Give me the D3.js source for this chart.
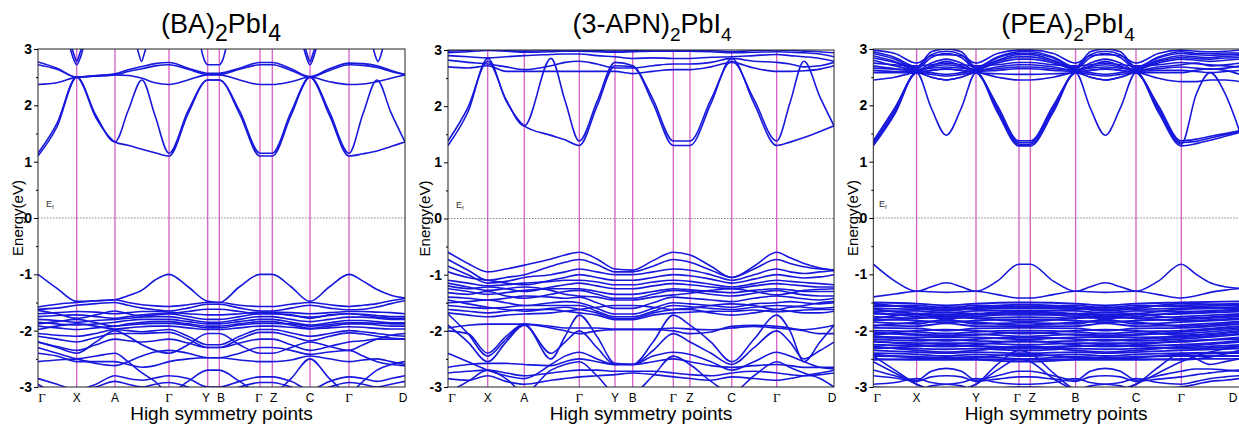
<!DOCTYPE html>
<html><head><meta charset="utf-8">
<script src="https://cdn.jsdelivr.net/npm/d3@7"></script>
<style>body{margin:0;background:#fff}svg{display:block}</style>
</head><body><svg id="c" width="1239" height="429"></svg>
<script>
// ---------- shared ----------
const yTicks = [-3,-2,-1,0,1,2,3];
const yMinor = [-2.5,-1.5,-0.5,0.5,1.5,2.5];
const xTitle = "High symmetry points";
const yTitle = "Energy(eV)";

// ---------- (BA)2PbI4 ----------
const baTitle = ["(BA)","2","PbI","4"];
const baKpts = [0,38.7,77,131,169.7,181.3,222,234.3,272,311,367];
const baKlabels = ["Γ","X","A","Γ","Y","B","Γ","Z","C","Γ","D"];
const baGrid = [0,19,38.7,58,77,90,104,117,131,150,169.7,181.3,201.6,222,234.3,253,272,291.5,311,325,339,353,367];
const baCB = [
 [1.10,1.62,2.50,1.78,1.35,1.29,1.22,1.16,1.10,1.85,2.45,2.45,1.85,1.10,1.10,1.82,2.50,1.82,1.10,1.14,1.19,1.27,1.35],
 [1.15,1.68,2.50,1.82,1.35,1.90,2.45,1.82,1.15,1.90,2.45,2.45,1.90,1.15,1.15,1.88,2.50,1.88,1.15,1.85,2.45,1.87,1.35],
 [2.37,2.40,2.50,2.52,2.54,2.53,2.48,2.40,2.37,2.45,2.54,2.54,2.45,2.37,2.37,2.42,2.50,2.42,2.37,2.38,2.42,2.48,2.54],
 [2.72,2.64,2.50,2.52,2.54,2.60,2.65,2.70,2.72,2.64,2.55,2.55,2.64,2.72,2.72,2.62,2.50,2.62,2.72,2.71,2.67,2.60,2.54],
 [2.77,2.66,2.50,2.53,2.56,2.63,2.69,2.74,2.76,2.66,2.57,2.57,2.66,2.76,2.76,2.65,2.51,2.65,2.75,2.74,2.70,2.62,2.55]
];
const baVB = [
 [-1.00,-1.25,-1.48,-1.47,-1.45,-1.38,-1.28,-1.10,-1.00,-1.22,-1.48,-1.50,-1.22,-1.00,-1.00,-1.22,-1.48,-1.22,-1.00,-1.12,-1.27,-1.37,-1.42],
 [-1.58,-1.53,-1.50,-1.47,-1.45,-1.50,-1.54,-1.56,-1.57,-1.54,-1.50,-1.50,-1.55,-1.57,-1.57,-1.53,-1.50,-1.54,-1.57,-1.55,-1.52,-1.47,-1.43],
 [-1.62,-1.60,-1.55,-1.52,-1.50,-1.55,-1.60,-1.63,-1.65,-1.60,-1.53,-1.53,-1.60,-1.65,-1.65,-1.60,-1.55,-1.60,-1.63,-1.62,-1.58,-1.52,-1.47],
 [-1.70,-1.68,-1.66,-1.67,-1.70,-1.68,-1.66,-1.66,-1.67,-1.70,-1.72,-1.72,-1.70,-1.67,-1.67,-1.68,-1.70,-1.68,-1.66,-1.66,-1.67,-1.68,-1.70],
 [-1.75,-1.73,-1.72,-1.75,-1.78,-1.75,-1.72,-1.70,-1.70,-1.75,-1.80,-1.80,-1.75,-1.70,-1.70,-1.73,-1.76,-1.73,-1.70,-1.71,-1.73,-1.75,-1.75],
 [-1.80,-1.82,-1.85,-1.82,-1.80,-1.78,-1.76,-1.75,-1.75,-1.80,-1.85,-1.85,-1.80,-1.75,-1.75,-1.80,-1.84,-1.80,-1.76,-1.76,-1.78,-1.80,-1.80],
 [-1.85,-1.88,-1.90,-1.88,-1.85,-1.82,-1.80,-1.80,-1.80,-1.84,-1.88,-1.88,-1.84,-1.80,-1.80,-1.85,-1.90,-1.86,-1.82,-1.82,-1.84,-1.86,-1.86],
 [-1.92,-1.95,-1.98,-1.95,-1.92,-1.88,-1.85,-1.84,-1.84,-1.88,-1.92,-1.92,-1.88,-1.84,-1.84,-1.90,-1.96,-1.92,-1.88,-1.88,-1.90,-1.92,-1.92],
 [-1.98,-1.92,-1.88,-1.92,-1.97,-1.95,-1.93,-1.92,-1.92,-1.95,-1.98,-1.98,-1.95,-1.92,-1.92,-1.94,-1.97,-1.95,-1.93,-1.94,-1.96,-1.97,-1.97],
 [-2.05,-2.08,-2.10,-2.05,-1.98,-2.00,-2.02,-2.00,-1.98,-2.10,-2.25,-2.25,-2.10,-1.98,-1.98,-2.04,-2.10,-2.05,-2.00,-2.02,-2.05,-2.08,-2.10],
 [-2.10,-2.15,-2.20,-2.12,-2.05,-2.05,-2.05,-2.04,-2.03,-2.15,-2.30,-2.30,-2.15,-2.03,-2.03,-2.10,-2.18,-2.10,-2.04,-2.06,-2.10,-2.13,-2.15],
 [-2.20,-2.28,-2.35,-2.25,-2.15,-2.18,-2.20,-2.18,-2.15,-2.22,-2.30,-2.30,-2.22,-2.15,-2.15,-2.25,-2.35,-2.28,-2.20,-2.18,-2.15,-2.15,-2.15],
 [-2.30,-2.40,-2.50,-2.58,-2.62,-2.55,-2.45,-2.38,-2.35,-2.40,-2.48,-2.48,-2.40,-2.30,-2.30,-2.35,-2.42,-2.38,-2.35,-2.45,-2.55,-2.60,-2.62],
 [-2.40,-2.45,-2.55,-2.55,-2.55,-2.60,-2.65,-2.62,-2.55,-2.50,-2.48,-2.48,-2.52,-2.55,-2.55,-2.52,-2.45,-2.50,-2.55,-2.52,-2.50,-2.55,-2.60],
 [-2.55,-2.52,-2.50,-2.45,-2.40,-2.55,-2.75,-2.90,-3.10,-2.90,-2.70,-2.70,-2.90,-3.10,-3.10,-2.85,-2.50,-2.85,-3.10,-2.90,-2.70,-2.60,-2.55],
 [-2.85,-2.95,-3.05,-2.95,-2.80,-2.85,-2.88,-2.84,-2.80,-2.85,-3.00,-3.00,-2.90,-2.82,-2.82,-2.90,-3.05,-2.90,-2.82,-2.85,-2.90,-2.85,-2.80],
 [-2.95,-3.10,-3.10,-3.00,-2.90,-2.95,-3.00,-2.95,-2.92,-3.00,-3.10,-3.10,-3.00,-2.92,-2.92,-3.00,-3.10,-3.00,-2.92,-2.95,-3.00,-2.95,-2.90],
 [-2.20,-2.30,-2.40,-2.20,-2.00,-2.10,-2.25,-2.35,-2.40,-2.25,-2.05,-2.05,-2.25,-2.40,-2.40,-2.30,-2.20,-2.28,-2.35,-2.25,-2.15,-2.08,-2.05],
 [-1.64,-1.70,-1.78,-1.72,-1.65,-1.70,-1.74,-1.72,-1.70,-1.66,-1.62,-1.62,-1.66,-1.70,-1.70,-1.72,-1.78,-1.72,-1.70,-1.72,-1.76,-1.78,-1.78],
 [-1.88,-1.84,-1.80,-1.86,-1.92,-1.90,-1.88,-1.87,-1.87,-1.90,-1.95,-1.95,-1.90,-1.87,-1.87,-1.88,-1.92,-1.89,-1.86,-1.86,-1.87,-1.88,-1.88]
];
const baPockets = [
 [[31,3.1],[35,2.85],[38.7,2.72],[42.4,2.85],[46.4,3.1]],
 [[32.5,3.1],[36,2.9],[38.7,2.78],[41.4,2.9],[44.9,3.1]],
 [[98,3.1],[101,2.9],[103.5,2.78],[106,2.9],[109,3.1]],
 [[162,3.1],[166,2.82],[169.7,2.72],[181.3,2.72],[185,2.82],[189,3.1]],
 [[264.5,3.1],[268.5,2.85],[272,2.72],[275.5,2.85],[279.5,3.1]],
 [[266,3.1],[269.3,2.9],[272,2.78],[274.7,2.9],[278,3.1]],
 [[334,3.1],[337,2.9],[340,2.78],[343,2.9],[346,3.1]]
];

// ---------- (3-APN)2PbI4 ----------
const apTitle = ["(3-APN)","2","PbI","4"];
const apKpts = [0,39.7,76.3,131.3,167,184.7,225.3,242,283.7,328.7,386];
const apKlabels = ["Γ","X","A","Γ","Y","B","Γ","Z","C","Γ","D"];
const apGrid = [0,20,39.7,58,76.3,103,117,131.3,149,167,184.7,205,225.3,242,263,283.7,306,328.7,342,356,372,386];
const apCB = [
 [1.30,1.90,2.85,2.10,1.65,1.48,1.40,1.30,2.00,2.72,2.70,2.05,1.30,1.30,2.05,2.85,2.05,1.30,1.36,1.44,1.55,1.65],
 [1.38,1.98,2.80,2.12,1.65,2.85,2.10,1.38,2.08,2.78,2.72,2.12,1.38,1.38,2.12,2.80,2.12,1.38,2.06,2.80,2.16,1.65],
 [2.70,2.68,2.72,2.62,2.62,2.62,2.62,2.62,2.62,2.62,2.58,2.62,2.65,2.65,2.70,2.78,2.68,2.62,2.62,2.63,2.66,2.72],
 [2.82,2.78,2.75,2.70,2.65,2.72,2.78,2.80,2.75,2.68,2.68,2.72,2.75,2.75,2.78,2.85,2.80,2.78,2.75,2.70,2.72,2.78],
 [2.90,2.88,2.86,2.88,2.90,2.92,2.93,2.93,2.90,2.88,2.85,2.86,2.85,2.85,2.87,2.88,2.90,2.92,2.90,2.88,2.85,2.80],
 [2.95,2.97,2.99,2.98,2.96,2.97,2.98,2.98,2.97,2.96,2.97,2.98,2.98,2.98,2.97,2.95,2.96,2.97,2.96,2.95,2.93,2.88],
 [2.98,2.99,3.05,2.99,2.98,2.99,3.00,3.00,2.99,2.98,2.99,3.00,3.00,3.00,2.99,2.97,2.99,3.00,2.99,2.98,2.97,2.95]
];
const apVB = [
 [-0.60,-0.80,-0.95,-0.90,-0.83,-0.72,-0.65,-0.60,-0.72,-0.90,-0.92,-0.75,-0.60,-0.65,-0.85,-1.05,-0.85,-0.60,-0.70,-0.80,-0.88,-0.92],
 [-0.73,-0.92,-1.10,-1.05,-1.00,-0.85,-0.78,-0.73,-0.82,-0.95,-0.95,-0.85,-0.73,-0.78,-0.92,-1.05,-0.90,-0.73,-0.80,-0.86,-0.90,-0.92],
 [-0.85,-1.00,-1.15,-1.12,-1.05,-1.00,-0.95,-0.90,-0.95,-1.00,-1.00,-0.95,-0.90,-0.92,-1.00,-1.10,-1.00,-0.90,-0.95,-0.98,-0.95,-0.93],
 [-0.95,-1.05,-1.10,-1.15,-1.18,-1.10,-1.05,-1.00,-1.05,-1.10,-1.10,-1.05,-1.00,-1.02,-1.08,-1.15,-1.08,-1.00,-1.03,-1.06,-1.04,-1.00],
 [-1.10,-1.15,-1.20,-1.18,-1.15,-1.12,-1.10,-1.10,-1.13,-1.18,-1.18,-1.13,-1.10,-1.12,-1.17,-1.22,-1.16,-1.10,-1.12,-1.14,-1.16,-1.18],
 [-1.20,-1.25,-1.22,-1.25,-1.30,-1.22,-1.18,-1.15,-1.20,-1.25,-1.25,-1.20,-1.16,-1.18,-1.22,-1.25,-1.20,-1.16,-1.18,-1.20,-1.22,-1.22],
 [-1.25,-1.30,-1.35,-1.32,-1.28,-1.25,-1.25,-1.25,-1.30,-1.35,-1.35,-1.30,-1.25,-1.27,-1.30,-1.32,-1.28,-1.25,-1.27,-1.30,-1.30,-1.30],
 [-1.32,-1.35,-1.30,-1.38,-1.42,-1.35,-1.30,-1.28,-1.35,-1.42,-1.42,-1.35,-1.28,-1.30,-1.35,-1.38,-1.33,-1.28,-1.32,-1.36,-1.38,-1.38],
 [-1.40,-1.42,-1.45,-1.42,-1.38,-1.40,-1.42,-1.40,-1.50,-1.60,-1.60,-1.50,-1.40,-1.42,-1.45,-1.48,-1.42,-1.38,-1.40,-1.43,-1.45,-1.42],
 [-1.50,-1.48,-1.45,-1.50,-1.55,-1.50,-1.48,-1.50,-1.60,-1.70,-1.70,-1.60,-1.50,-1.52,-1.55,-1.58,-1.52,-1.50,-1.48,-1.50,-1.52,-1.50],
 [-1.55,-1.58,-1.60,-1.58,-1.55,-1.55,-1.55,-1.55,-1.65,-1.75,-1.75,-1.65,-1.55,-1.57,-1.60,-1.62,-1.58,-1.55,-1.56,-1.58,-1.60,-1.58],
 [-1.62,-1.65,-1.68,-1.65,-1.62,-1.62,-1.65,-1.68,-1.72,-1.80,-1.80,-1.72,-1.68,-1.67,-1.65,-1.65,-1.63,-1.66,-1.65,-1.63,-1.62,-1.62],
 [-1.68,-1.72,-1.75,-1.72,-1.70,-1.68,-1.65,-1.62,-1.58,-1.55,-1.55,-1.58,-1.62,-1.62,-1.68,-1.72,-1.68,-1.62,-1.65,-1.68,-1.68,-1.65],
 [-1.95,-1.90,-1.88,-1.88,-1.88,-1.92,-1.95,-1.95,-1.95,-1.97,-1.97,-1.97,-1.95,-1.97,-1.98,-1.95,-1.92,-1.95,-1.97,-1.98,-1.95,-1.90],
 [-2.00,-2.05,-2.40,-2.10,-1.88,-1.95,-2.00,-2.05,-2.00,-1.98,-1.98,-1.98,-2.00,-2.05,-2.02,-1.92,-1.90,-1.92,-1.95,-2.00,-2.05,-2.05],
 [-1.70,-2.05,-2.45,-2.15,-1.88,-2.50,-2.10,-1.72,-2.10,-2.58,-2.60,-2.20,-1.72,-1.90,-2.20,-2.55,-2.15,-1.72,-2.00,-2.55,-2.20,-1.90],
 [-1.90,-2.20,-2.55,-2.20,-1.90,-2.40,-2.20,-2.00,-2.30,-2.60,-2.60,-2.35,-2.05,-2.20,-2.40,-2.60,-2.30,-2.00,-2.20,-2.50,-2.35,-2.20],
 [-2.65,-2.60,-2.58,-2.58,-2.60,-2.62,-2.55,-2.50,-2.55,-2.60,-2.60,-2.55,-2.50,-2.55,-2.62,-2.65,-2.62,-2.60,-2.62,-2.65,-2.65,-2.65],
 [-2.40,-2.55,-2.70,-2.80,-2.85,-2.60,-2.45,-2.38,-2.50,-2.60,-2.60,-2.45,-2.38,-2.42,-2.55,-2.70,-2.55,-2.38,-2.45,-2.55,-2.65,-2.68],
 [-2.75,-2.72,-2.70,-2.75,-2.80,-2.75,-2.72,-2.70,-2.70,-2.72,-2.72,-2.72,-2.75,-2.78,-2.80,-2.75,-2.72,-2.75,-2.78,-2.80,-2.78,-2.75],
 [-2.85,-2.88,-2.80,-2.90,-2.95,-2.88,-2.85,-2.82,-2.80,-2.78,-2.75,-2.78,-2.82,-2.85,-2.88,-2.82,-2.85,-2.88,-2.85,-2.80,-2.75,-2.70],
 [-3.10,-2.90,-2.70,-2.85,-3.10,-2.70,-2.60,-2.55,-2.80,-3.10,-3.10,-2.80,-2.45,-2.60,-2.90,-3.10,-2.80,-2.55,-2.65,-2.75,-2.85,-3.00],
 [-1.15,-1.22,-1.28,-1.25,-1.22,-1.28,-1.35,-1.38,-1.40,-1.45,-1.45,-1.40,-1.36,-1.33,-1.28,-1.25,-1.30,-1.36,-1.33,-1.28,-1.26,-1.25],
 [-1.45,-1.52,-1.58,-1.62,-1.65,-1.60,-1.58,-1.62,-1.68,-1.78,-1.78,-1.68,-1.62,-1.60,-1.55,-1.52,-1.55,-1.62,-1.58,-1.55,-1.50,-1.48]
];

// ---------- (PEA)2PbI4 ----------
const peTitle = ["(PEA)","2","PbI","4"];
const peKpts = [0,43.3,102.7,145.7,157,202.3,262.7,308,366.7];
const peKlabels = ["Γ","X","Y","Γ","Z","B","C","Γ","D"];
const peGrid = [0,21.6,43.3,58,73,88,102.7,124,145.7,157,180,202.3,217,232,247,262.7,285,308,323,337,352,366.7];
const peCB = [
 [1.28,1.85,2.58,1.95,1.47,1.95,2.58,1.88,1.28,1.28,1.88,2.58,1.95,1.47,1.95,2.58,1.88,1.28,1.32,1.38,1.45,1.52],
 [1.31,1.88,2.58,2.50,2.45,2.50,2.58,1.92,1.31,1.31,1.92,2.58,2.50,2.45,2.50,2.58,1.92,1.31,2.20,2.58,2.20,1.52],
 [1.34,1.92,2.58,2.55,2.52,2.55,2.58,1.96,1.34,1.34,1.96,2.58,2.55,2.52,2.55,2.58,1.96,1.34,1.36,1.42,1.48,1.54],
 [1.37,1.96,2.58,2.62,2.65,2.62,2.58,2.00,1.37,1.37,2.00,2.58,2.62,2.65,2.62,2.58,2.00,1.37,1.40,1.45,1.50,1.55],
 [2.45,2.50,2.58,2.50,2.45,2.50,2.58,2.50,2.45,2.45,2.50,2.58,2.50,2.45,2.50,2.58,2.48,2.42,2.42,2.45,2.45,2.42],
 [2.62,2.60,2.60,2.68,2.72,2.68,2.60,2.62,2.65,2.65,2.62,2.60,2.68,2.72,2.68,2.60,2.62,2.62,2.60,2.58,2.60,2.62],
 [2.70,2.65,2.62,2.75,2.82,2.75,2.62,2.68,2.72,2.72,2.68,2.62,2.75,2.82,2.75,2.62,2.68,2.72,2.75,2.70,2.72,2.75],
 [2.80,2.70,2.62,2.58,2.55,2.58,2.62,2.75,2.82,2.82,2.75,2.62,2.58,2.55,2.58,2.62,2.75,2.82,2.80,2.78,2.80,2.82],
 [2.88,2.78,2.65,2.85,2.92,2.85,2.65,2.80,2.90,2.90,2.80,2.65,2.85,2.92,2.85,2.65,2.80,2.88,2.86,2.85,2.87,2.88],
 [2.95,2.85,2.68,2.95,3.00,2.95,2.68,2.86,2.95,2.95,2.86,2.68,2.95,3.00,2.95,2.68,2.86,2.95,2.92,2.92,2.93,2.93],
 [2.75,2.72,2.70,2.72,2.75,2.72,2.70,2.72,2.76,2.76,2.72,2.70,2.72,2.75,2.72,2.70,2.72,2.76,2.74,2.72,2.70,2.68],
 [2.98,2.92,2.75,2.88,2.90,2.88,2.75,2.92,2.98,2.98,2.92,2.75,2.88,2.90,2.88,2.75,2.92,2.98,2.96,2.95,2.96,2.98],
 [2.58,2.58,2.58,2.62,2.64,2.62,2.58,2.56,2.55,2.55,2.56,2.58,2.62,2.64,2.62,2.58,2.58,2.58,2.62,2.65,2.62,2.55],
 [2.66,2.64,2.62,2.70,2.78,2.70,2.62,2.65,2.68,2.68,2.65,2.62,2.70,2.78,2.70,2.62,2.65,2.68,2.66,2.64,2.66,2.70],
 [2.84,2.76,2.64,2.66,2.68,2.66,2.64,2.78,2.86,2.86,2.78,2.64,2.66,2.68,2.66,2.64,2.78,2.85,2.83,2.82,2.84,2.85],
 [2.92,2.82,2.66,2.90,2.96,2.90,2.66,2.84,2.92,2.92,2.84,2.66,2.90,2.96,2.90,2.66,2.84,2.92,2.90,2.89,2.90,2.91]
];
const peVB = [
 [-0.82,-1.12,-1.30,-1.22,-1.15,-1.22,-1.30,-1.12,-0.82,-0.82,-1.12,-1.30,-1.22,-1.15,-1.22,-1.30,-1.12,-0.82,-1.00,-1.15,-1.22,-1.25],
 [-1.40,-1.35,-1.30,-1.31,-1.32,-1.31,-1.30,-1.36,-1.42,-1.42,-1.36,-1.30,-1.31,-1.32,-1.31,-1.30,-1.36,-1.42,-1.38,-1.32,-1.28,-1.25],
 [-2.70,-2.80,-2.88,-2.72,-2.67,-2.72,-2.88,-2.80,-2.72,-2.72,-2.80,-2.88,-2.72,-2.67,-2.72,-2.88,-2.80,-2.72,-2.68,-2.68,-2.70,-2.72],
 [-2.80,-2.84,-2.90,-2.82,-2.80,-2.82,-2.90,-2.86,-2.82,-2.82,-2.86,-2.90,-2.82,-2.80,-2.82,-2.90,-2.86,-2.82,-2.78,-2.75,-2.72,-2.70],
 [-2.95,-2.92,-2.85,-2.92,-2.95,-2.92,-2.85,-2.92,-2.95,-2.95,-2.92,-2.85,-2.92,-2.95,-2.92,-2.85,-2.92,-2.95,-2.90,-2.85,-2.82,-2.80],
 [-2.45,-2.70,-2.95,-3.05,-3.10,-3.05,-2.95,-2.60,-2.35,-2.40,-2.75,-3.05,-3.10,-3.10,-3.05,-2.95,-2.65,-2.40,-2.50,-2.60,-2.55,-2.50],
 [-2.55,-2.75,-2.95,-3.05,-3.08,-3.05,-2.95,-2.70,-2.50,-2.55,-2.85,-3.05,-3.08,-3.08,-3.05,-2.95,-2.75,-2.55,-2.45,-2.38,-2.32,-2.28],
 [-3.00,-3.02,-3.05,-2.98,-2.95,-2.98,-3.05,-3.02,-3.00,-3.00,-3.02,-3.05,-2.98,-2.95,-2.98,-3.05,-3.02,-3.00,-2.95,-2.90,-2.88,-2.85]
];
// dense valence manifold sampled at high-symmetry points and X-Y / B-C midpoints
const peDenseGrid = [0,43.3,73,102.7,145.7,157,202.3,232,262.7,308,366.7];
const peDense = [
 [-1.50,-1.52,-1.55,-1.52,-1.50,-1.50,-1.52,-1.55,-1.52,-1.50,-1.48],
 [-1.55,-1.58,-1.62,-1.58,-1.54,-1.54,-1.58,-1.62,-1.58,-1.55,-1.52],
 [-1.60,-1.62,-1.58,-1.62,-1.60,-1.60,-1.62,-1.58,-1.62,-1.60,-1.58],
 [-1.66,-1.65,-1.68,-1.65,-1.64,-1.64,-1.65,-1.68,-1.65,-1.66,-1.62],
 [-1.70,-1.72,-1.75,-1.72,-1.68,-1.68,-1.72,-1.75,-1.72,-1.70,-1.66],
 [-1.75,-1.78,-1.72,-1.78,-1.76,-1.76,-1.78,-1.72,-1.78,-1.75,-1.70],
 [-1.80,-1.82,-1.85,-1.82,-1.80,-1.80,-1.82,-1.85,-1.82,-1.80,-1.75],
 [-1.85,-1.88,-1.80,-1.88,-1.86,-1.86,-1.88,-1.80,-1.88,-1.85,-1.80],
 [-1.90,-1.92,-1.87,-1.92,-1.92,-1.92,-1.92,-1.87,-1.92,-1.90,-1.84],
 [-1.95,-1.96,-2.00,-1.96,-1.95,-1.95,-1.96,-2.00,-1.96,-1.95,-1.88],
 [-2.00,-2.02,-2.05,-2.02,-2.00,-2.00,-2.02,-2.05,-2.02,-2.00,-1.92],
 [-2.05,-2.06,-2.08,-2.06,-2.10,-2.10,-2.06,-2.08,-2.06,-2.05,-1.97],
 [-2.10,-2.12,-2.12,-2.12,-2.15,-2.15,-2.12,-2.12,-2.12,-2.10,-2.02],
 [-2.15,-2.18,-2.16,-2.18,-2.20,-2.20,-2.18,-2.16,-2.18,-2.15,-2.07],
 [-2.20,-2.22,-2.22,-2.22,-2.25,-2.25,-2.22,-2.22,-2.22,-2.20,-2.12],
 [-2.25,-2.27,-2.28,-2.27,-2.30,-2.30,-2.27,-2.28,-2.27,-2.25,-2.18],
 [-2.30,-2.32,-2.33,-2.32,-2.35,-2.35,-2.32,-2.33,-2.32,-2.30,-2.25],
 [-2.35,-2.38,-2.40,-2.38,-2.40,-2.40,-2.38,-2.40,-2.38,-2.35,-2.32],
 [-2.40,-2.42,-2.45,-2.42,-2.45,-2.45,-2.42,-2.45,-2.42,-2.40,-2.38],
 [-2.45,-2.46,-2.48,-2.46,-2.50,-2.50,-2.46,-2.48,-2.46,-2.45,-2.45],
 [-2.50,-2.52,-2.52,-2.52,-2.55,-2.55,-2.52,-2.52,-2.52,-2.50,-2.50],
 [-1.52,-1.60,-1.65,-1.60,-1.58,-1.58,-1.60,-1.65,-1.60,-1.52,-1.55],
 [-1.78,-1.70,-1.68,-1.70,-1.72,-1.72,-1.70,-1.68,-1.70,-1.78,-1.72],
 [-2.08,-2.00,-1.98,-2.00,-2.05,-2.05,-2.00,-1.98,-2.00,-2.08,-2.00],
 [-2.28,-2.35,-2.38,-2.35,-2.28,-2.28,-2.35,-2.38,-2.35,-2.28,-2.20],
 [-1.62,-1.70,-1.72,-1.70,-1.66,-1.66,-1.70,-1.72,-1.70,-1.62,-1.60],
 [-1.92,-1.85,-1.82,-1.85,-1.90,-1.90,-1.85,-1.82,-1.85,-1.92,-1.85],
 [-2.18,-2.25,-2.28,-2.25,-2.18,-2.18,-2.25,-2.28,-2.25,-2.18,-2.15],
 [-1.57,-1.55,-1.60,-1.55,-1.57,-1.57,-1.55,-1.60,-1.55,-1.57,-1.54],
 [-1.68,-1.75,-1.78,-1.75,-1.70,-1.70,-1.75,-1.78,-1.75,-1.68,-1.64],
 [-1.82,-1.78,-1.76,-1.78,-1.83,-1.83,-1.78,-1.76,-1.78,-1.82,-1.78],
 [-2.02,-2.08,-2.10,-2.08,-2.03,-2.03,-2.08,-2.10,-2.08,-2.02,-1.95],
 [-2.12,-2.15,-2.18,-2.15,-2.12,-2.12,-2.15,-2.18,-2.15,-2.12,-2.05],
 [-2.32,-2.28,-2.25,-2.28,-2.32,-2.32,-2.28,-2.25,-2.28,-2.32,-2.28],
 [-2.42,-2.48,-2.50,-2.48,-2.42,-2.42,-2.48,-2.50,-2.48,-2.42,-2.40],
 [-2.52,-2.50,-2.48,-2.50,-2.52,-2.52,-2.50,-2.48,-2.50,-2.52,-2.35]
];

// ---------- drawing ----------
const svg = d3.select("#c");
svg.append("rect").attr("width",1239).attr("height",429).attr("fill","#fff");

const BAND = "#1818dc", VLINE = "#d24fbf";
const FONT = "'Liberation Sans', Arial, sans-serif";

const panels = [
 {id:"ba", title:baTitle, kpts:baKpts, klabels:baKlabels, grid:baGrid, sets:[baCB,baVB], dGrid:null, dense:[], pockets:baPockets,
  L:38, R:405, T:49, B:387, titleX:221, titleMain:27, titleSub:23, yLabX:17, efX:46},
 {id:"ap", title:apTitle, kpts:apKpts, klabels:apKlabels, grid:apGrid, sets:[apCB,apVB], dGrid:null, dense:[], pockets:[],
  L:448, R:834, T:50, B:387, titleX:652, titleMain:27, titleSub:19, yLabX:424, efX:456},
 {id:"pe", title:peTitle, kpts:peKpts, klabels:peKlabels, grid:peGrid, sets:[peCB,peVB], dGrid:peDenseGrid, dense:peDense, pockets:[],
  L:873.3, R:1240, T:49, B:387, titleX:1068, titleMain:27, titleSub:19, yLabX:852, efX:879}
];

panels.forEach(p => {
  const x = d3.scaleLinear().domain([0, p.kpts[p.kpts.length-1]]).range([p.L, p.R]);
  const y = d3.scaleLinear().domain([-3, 3]).range([p.B, p.T]);
  const g = svg.append("g");

  g.append("clipPath").attr("id","clip-"+p.id)
    .append("rect").attr("x",p.L).attr("y",p.T).attr("width",p.R-p.L).attr("height",p.B-p.T);
  const plot = g.append("g").attr("clip-path","url(#clip-"+p.id+")");

  plot.selectAll("line.hs").data(p.kpts.slice(1,-1)).join("line")
    .attr("x1",d=>x(d)).attr("x2",d=>x(d)).attr("y1",p.T).attr("y2",p.B)
    .attr("stroke",VLINE).attr("stroke-width",1.3).attr("opacity",0.9);

  plot.append("line").attr("x1",p.L).attr("x2",p.R).attr("y1",y(0)).attr("y2",y(0))
    .attr("stroke","#666").attr("stroke-width",0.8).attr("stroke-dasharray","1.5,1.5");

  const line = d3.line().x(d=>x(d[0])).y(d=>y(d[1])).curve(d3.curveMonotoneX);
  const bandG = plot.append("g").attr("fill","none").attr("stroke",BAND).attr("stroke-width",1.6);
  p.sets.forEach(set => set.forEach(b => {
    bandG.append("path").attr("d", line(p.grid.map((k,i)=>[k,b[i]])));
  }));
  p.dense.forEach(b => {
    bandG.append("path").attr("stroke-width",1.8).attr("d", line(p.dGrid.map((k,i)=>[k,b[i]])));
  });
  p.pockets.forEach(pk => bandG.append("path").attr("d", line(pk)));

  g.append("rect").attr("x",p.L).attr("y",p.T).attr("width",p.R-p.L).attr("height",p.B-p.T)
    .attr("fill","none").attr("stroke","#222").attr("stroke-width",1);

  const ax = g.append("g").attr("transform","translate("+p.L+",0)")
    .call(d3.axisLeft(y).tickValues(yTicks).tickSize(4).tickPadding(2).tickFormat(d=>String(d)));
  ax.select(".domain").remove();
  ax.selectAll("text").attr("font-family",FONT).attr("font-size",14).attr("font-weight","bold").attr("fill","#000");
  const axm = g.append("g").attr("transform","translate("+p.L+",0)")
    .call(d3.axisLeft(y).tickValues(yMinor).tickSize(2).tickFormat(""));
  axm.select(".domain").remove();

  g.append("text").attr("transform","translate("+p.yLabX+","+((p.T+p.B)/2)+") rotate(-90)")
    .attr("text-anchor","middle").attr("dominant-baseline","central")
    .attr("font-family",FONT).attr("font-size",15).text(yTitle);

  const ef = g.append("text").attr("x",p.efX).attr("y",y(0)-11).attr("font-family",FONT).attr("font-size",9).attr("fill","#333");
  ef.append("tspan").text("E");
  ef.append("tspan").attr("font-size",6).attr("dy",2).text("f");

  const pos = p.kpts.map(k=>x(k));
  const adj = pos.slice();
  for (let i=1;i<adj.length;i++){
    const gap = pos[i]-pos[i-1];
    if (gap < 15 && i>1) { adj[i-1] -= (15-gap)/2; adj[i] += (15-gap)/2; }
  }
  adj[0] = p.L + 4;
  adj[adj.length-1] = Math.min(pos[pos.length-1]-2, 1233);
  g.selectAll("text.kl").data(p.klabels).join("text")
    .attr("x",(d,i)=>adj[i]).attr("y",p.B+15).attr("text-anchor","middle")
    .attr("font-family",d=> d==="Γ" ? "'Liberation Serif', serif" : FONT)
    .attr("font-size",d=> d==="Γ" ? 13 : 12).text(d=>d);

  g.append("text").attr("x",(p.L+Math.min(p.R,1239))/2).attr("y",420)
    .attr("text-anchor","middle").attr("font-family",FONT).attr("font-size",19).text(xTitle);

  const t = g.append("text").attr("x",p.titleX).attr("y",33).attr("text-anchor","middle").attr("font-family",FONT);
  t.append("tspan").attr("font-size",p.titleMain).text(p.title[0]);
  t.append("tspan").attr("font-size",p.titleSub).attr("dy",8).text(p.title[1]);
  t.append("tspan").attr("font-size",p.titleMain).attr("dy",-8).text(p.title[2]);
  t.append("tspan").attr("font-size",p.titleSub).attr("dy",8).text(p.title[3]);
});
</script>
</body></html>
